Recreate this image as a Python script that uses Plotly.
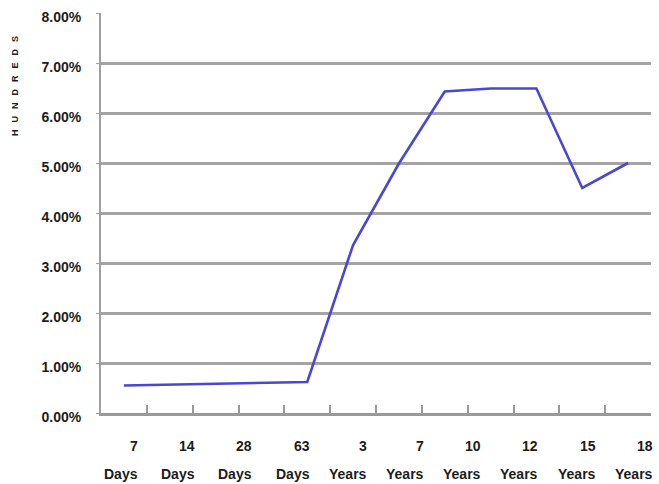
import plotly.graph_objects as go

# Maturity buckets on the category axis (12 slots) and yields (as fractions)
buckets = ["b1", "b2", "b3", "b4", "b5", "b6", "b7", "b8", "b9", "b10", "b11", "b12"]
yields = [0.0055, 0.0057, 0.0059, 0.0061, 0.0062, 0.0336, 0.0499, 0.0643, 0.0649, 0.0649, 0.0450, 0.0500]

# Maturity labels printed under the axis
label_numbers = ["7", "14", "28", "63", "3", "7", "10", "12", "15", "18"]
label_units = ["Days", "Days", "Days", "Days", "Years", "Years", "Years", "Years", "Years", "Years"]

W, H = 659, 484
M_L, M_R, M_T, M_B = 101, 8, 13, 71
plot_w = W - M_L - M_R
plot_h = H - M_T - M_B

TEXT = "#1c1c1c"
GRID = "#a4a4a4"
FONT = "Liberation Sans, Arial, sans-serif"

fig = go.Figure()
fig.add_trace(go.Scatter(
    x=buckets, y=yields, mode="lines",
    line=dict(color="#4848d4", width=2.6),
    hoverinfo="skip", showlegend=False,
))

fig.update_layout(
    width=W, height=H,
    margin=dict(l=M_L, r=M_R, t=M_T, b=M_B, pad=0, autoexpand=False),
    paper_bgcolor="white", plot_bgcolor="white",
    font=dict(family=FONT, color=TEXT, size=14),
    showlegend=False,
)

fig.update_xaxes(
    type="category", range=[-0.5, len(buckets) - 0.5],
    showticklabels=False, showgrid=False, automargin=False,
    showline=True, linecolor="#999999", linewidth=2.5,
    ticks="inside", tickson="boundaries", ticklen=8, tickwidth=1.5, tickcolor="#999999",
)
fig.update_yaxes(
    range=[0, 0.08], dtick=0.01, tickformat=".2%",
    showgrid=True, gridcolor=GRID, gridwidth=2.6, automargin=False,
    showline=True, linecolor="#a0a0a0", linewidth=2,
    ticks="outside", ticklen=3, tickcolor="#a0a0a0",
    zeroline=False,
    tickfont=dict(family=FONT, size=14, color=TEXT, weight="bold"),
    ticklabelstandoff=12, ticklabelshift=4,
)

# Two-row maturity labels, right-aligned, evenly spaced along the bottom
first_right, step = 140, 57.2
for i, (num, unit) in enumerate(zip(label_numbers, label_units)):
    xr = (first_right + i * step - M_L) / plot_w
    fig.add_annotation(
        x=xr, y=(H - 446 - M_B) / plot_h, xref="paper", yref="paper",
        text=num, showarrow=False, xanchor="right", yanchor="middle", align="right",
        font=dict(family=FONT, size=14, color=TEXT, weight="bold"),
    )
    fig.add_annotation(
        x=xr, y=(H - 474 - M_B) / plot_h, xref="paper", yref="paper",
        text=unit, showarrow=False, xanchor="right", yanchor="middle", align="right",
        font=dict(family=FONT, size=14, color=TEXT, weight="bold"),
    )

# Vertical axis caption, letter-spaced
caption = "\u00a0\u2002".join("HUNDREDS")
fig.add_annotation(
    x=(15 - M_L) / plot_w, y=(H - 86 - M_B) / plot_h, xref="paper", yref="paper",
    text=caption, showarrow=False, textangle=-90,
    xanchor="center", yanchor="middle",
    font=dict(family=FONT, size=9, color=TEXT, weight="bold"),
)

fig.write_html("out.html")
